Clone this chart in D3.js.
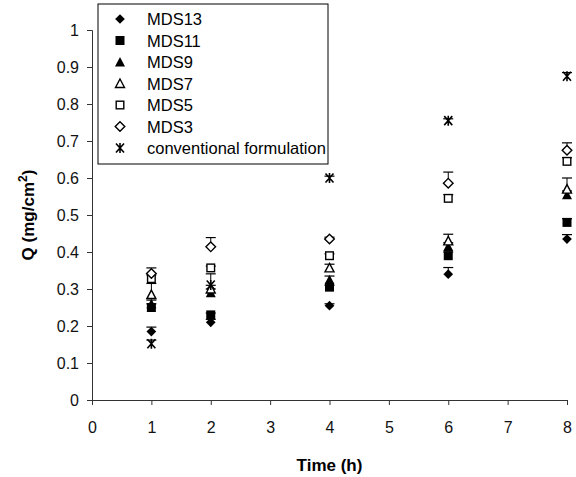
<!DOCTYPE html>
<html>
<head>
<meta charset="utf-8">
<script src="https://cdn.jsdelivr.net/npm/d3@7"></script>
<style>
  body { margin: 0; background: #fff; }
  svg { display: block; font-family: "Liberation Sans", Arial, sans-serif; }
</style>
</head>
<body>
<div id="chart"></div>
<script>
// Data
const times = [1, 2, 4, 6, 8];
const seriesNames = ["MDS13", "MDS11", "MDS9", "MDS7", "MDS5", "MDS3", "conventional formulation"];
const mds13 = [0.185, 0.21, 0.255, 0.34, 0.435];
const mds11 = [0.25, 0.23, 0.305, 0.39, 0.48];
const mds9 = [0.26, 0.29, 0.325, 0.415, 0.555];
const mds7 = [0.285, 0.30, 0.357, 0.43, 0.57];
const mds5 = [0.328, 0.357, 0.39, 0.545, 0.645];
const mds3 = [0.342, 0.414, 0.435, 0.586, 0.675];
const conv = [0.152, 0.311, 0.60, 0.755, 0.875];
// upward error bars
const err13 = [0.012, 0.008, 0.005, 0.018, 0.012];
const err11 = [0.01, 0.005, 0.005, 0.01, 0.01];
const err9 = [0.01, 0.01, 0.01, 0.01, 0.01];
const err7 = [0.03, 0.01, 0.01, 0.018, 0.03];
const err5 = [0.01, 0.005, 0.005, 0.01, 0.01];
const err3 = [0.015, 0.025, 0.005, 0.03, 0.02];
const errConv = [0.01, 0.03, 0.005, 0.005, 0.01];
const symbols = ["diamondFilled", "squareFilled", "triangleFilled", "triangleOpen", "squareOpen", "diamondOpen", "star"];

const yTicks = [0, 0.1, 0.2, 0.3, 0.4, 0.5, 0.6, 0.7, 0.8, 0.9, 1];
const xTicks = [0, 1, 2, 3, 4, 5, 6, 7, 8];

const width = 576, height = 477;
const marginLeft = 92, marginRight = 9, marginTop = 30, marginBottom = 77;

const svg = d3.select("#chart").append("svg")
  .attr("width", width)
  .attr("height", height);

const x = d3.scaleLinear().domain([0, 8]).range([marginLeft, width - marginRight]);
const y = d3.scaleLinear().domain([0, 1]).range([height - marginBottom, marginTop]);

// Axes
svg.append("g")
  .attr("transform", `translate(0,${height - marginBottom})`)
  .call(d3.axisBottom(x).tickValues(xTicks).tickSize(5).tickPadding(17).tickFormat(d3.format("d")))
  .call(g => g.selectAll("text").attr("font-size", 16).attr("fill", "#111"))
  .call(g => g.selectAll("line, path").attr("stroke", "#333"));

svg.append("g")
  .attr("transform", `translate(${marginLeft},0)`)
  .call(d3.axisLeft(y).tickValues(yTicks).tickSize(5).tickPadding(8).tickFormat(d => d === 0 || d === 1 ? d3.format("d")(d) : d3.format(".1f")(d)))
  .call(g => g.selectAll("text").attr("font-size", 16).attr("fill", "#111"))
  .call(g => g.selectAll("line, path").attr("stroke", "#333"));

// Axis titles
svg.append("text")
  .attr("x", x(4))
  .attr("y", 471)
  .attr("text-anchor", "middle")
  .attr("font-size", 17)
  .attr("font-weight", "bold")
  .text("Time (h)");

const yTitle = svg.append("text")
  .attr("transform", `translate(34,${y(0.5)}) rotate(-90)`)
  .attr("text-anchor", "middle")
  .attr("font-size", 17)
  .attr("font-weight", "bold");
yTitle.append("tspan").text("Q (mg/cm");
yTitle.append("tspan").attr("dy", -7).attr("font-size", 12).text("2");
yTitle.append("tspan").attr("dy", 7).text(")");

// Marker drawing
function drawMarker(g, type) {
  if (type === "diamondFilled") {
    g.append("path").attr("d", d3.symbol(d3.symbolDiamond2, 60)()).attr("fill", "#000");
  } else if (type === "squareFilled") {
    g.append("rect").attr("x", -4.5).attr("y", -4.5).attr("width", 9).attr("height", 9).attr("fill", "#000");
  } else if (type === "triangleFilled") {
    g.append("path").attr("d", "M0,-5L5,4.5L-5,4.5Z").attr("fill", "#000");
  } else if (type === "triangleOpen") {
    g.append("path").attr("d", "M0,-4.5L4.5,4L-4.5,4Z").attr("fill", "#fff").attr("stroke", "#000").attr("stroke-width", 1.4);
  } else if (type === "squareOpen") {
    g.append("rect").attr("x", -3.8).attr("y", -3.8).attr("width", 7.6).attr("height", 7.6)
      .attr("fill", "#fff").attr("stroke", "#000").attr("stroke-width", 1.4);
  } else if (type === "diamondOpen") {
    g.append("path").attr("d", "M0,-4.8L4.8,0L0,4.8L-4.8,0Z").attr("fill", "#fff").attr("stroke", "#000").attr("stroke-width", 1.4);
  } else if (type === "star") {
    g.append("path").attr("d", "M-4,-4.5L4,4.5M4,-4.5L-4,4.5M0,-5L0,5").attr("stroke", "#000").attr("stroke-width", 1.6);
  }
}

const values = [mds13, mds11, mds9, mds7, mds5, mds3, conv];
const errors = [err13, err11, err9, err7, err5, err3, errConv];

const plot = svg.append("g");
values.forEach((vals, si) => {
  const ser = plot.append("g");
  vals.forEach((v, i) => {
    const cx = x(times[i]);
    const top = y(v + errors[si][i]);
    ser.append("line").attr("x1", cx).attr("x2", cx).attr("y1", y(v)).attr("y2", top).attr("stroke", "#000").attr("stroke-width", 1);
    ser.append("line").attr("x1", cx - 5).attr("x2", cx + 5).attr("y1", top).attr("y2", top).attr("stroke", "#000").attr("stroke-width", 1.2);
  });
  vals.forEach((v, i) => {
    const g = ser.append("g").attr("transform", `translate(${x(times[i])},${y(v)})`);
    drawMarker(g, symbols[si]);
  });
});

// Legend
const legend = svg.append("g").attr("transform", "translate(98,4)");
legend.append("rect")
  .attr("width", 230).attr("height", 160)
  .attr("fill", "#fff").attr("stroke", "#000").attr("stroke-width", 1);
seriesNames.forEach((name, i) => {
  const ly = 15 + i * 21.5;
  const g = legend.append("g").attr("transform", `translate(22,${ly})`);
  drawMarker(g, symbols[i]);
  legend.append("text")
    .attr("x", 49).attr("y", ly + 6)
    .attr("font-size", 16.5)
    .text(name);
});
</script>
</body>
</html>
